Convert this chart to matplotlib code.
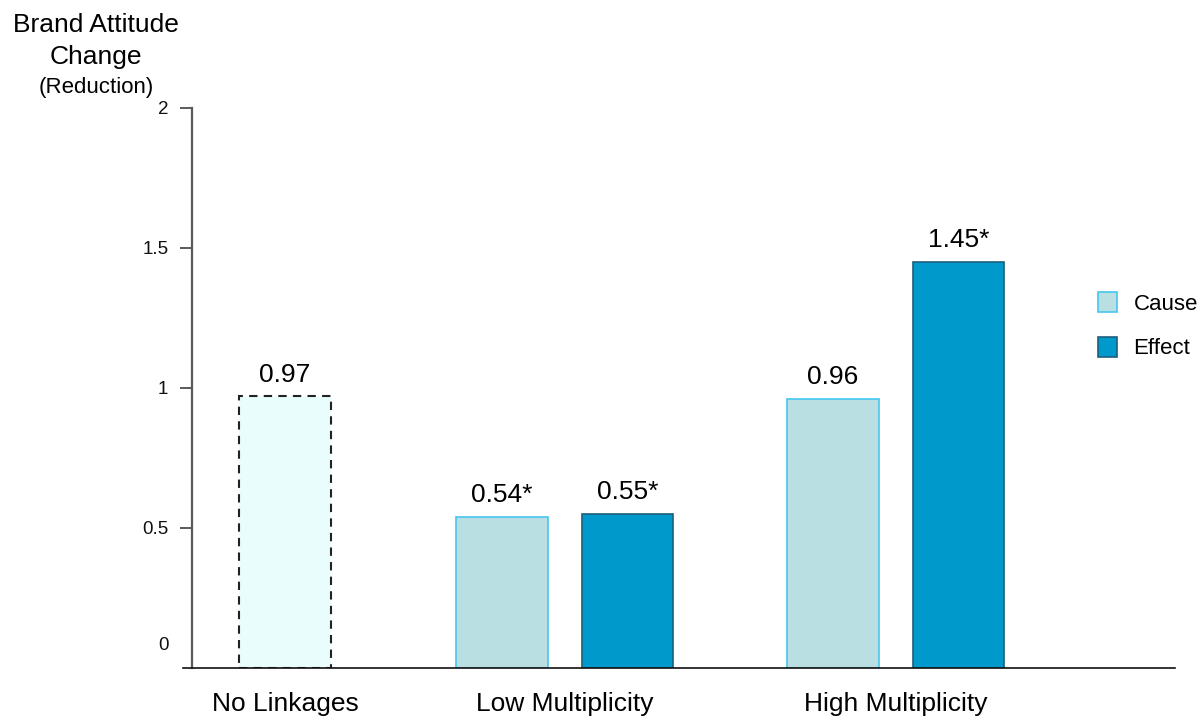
import matplotlib
matplotlib.use("Agg")
import matplotlib.pyplot as plt
import matplotlib.transforms as mtransforms
from matplotlib.patches import Patch

plt.rcParams["font.family"] = ["Liberation Sans", "DejaVu Sans"]

# Data
categories = ["No Linkages", "Low Multiplicity", "High Multiplicity"]
baseline_value = 0.97
baseline_label = "0.97"
cause_values = [0.54, 0.96]
cause_labels = ["0.54*", "0.96"]
effect_values = [0.55, 1.45]
effect_labels = ["0.55*", "1.45*"]
y_ticks = [0, 0.5, 1, 1.5, 2]
y_tick_labels = ["0", "0.5", "1", "1.5", "2"]

# Layout (x in bar-width units)
group_x = [1.115, 4.17, 7.79]
pair_offset = 0.686
bar_w = 1.0

cause_fill, cause_edge = "#BADFE3", "#45C6EE"
effect_fill, effect_edge = "#0099CC", "#1E5F7C"
base_fill = "#E9FDFD"

fig = plt.figure(figsize=(12.04, 7.19), dpi=100)
W, H = 1204, 719
ax = fig.add_axes([183 / W, (H - 668) / H, (1175 - 183) / W, (668 - 108) / H])
ax.set_xlim(0, 10.84)
ax.set_ylim(0, 2)

# No-linkage baseline bar (dashed outline)
ax.bar(group_x[0], baseline_value, width=bar_w, color=base_fill,
       edgecolor="#222222", linewidth=1.5, linestyle=(0, (4, 3)))
ax.text(group_x[0], baseline_value + 0.035, baseline_label, ha="center",
        va="bottom", fontsize=19)

# Cause / Effect bars
cx = [group_x[1] - pair_offset, group_x[2] - pair_offset]
ex = [group_x[1] + pair_offset, group_x[2] + pair_offset]
ax.bar(cx, cause_values, width=bar_w, color=cause_fill, edgecolor=cause_edge,
       linewidth=1.2)
ax.bar(ex, effect_values, width=bar_w, color=effect_fill, edgecolor=effect_edge,
       linewidth=1.2)
for x, v, t in zip(cx, cause_values, cause_labels):
    ax.text(x, v + 0.035, t, ha="center", va="bottom", fontsize=19)
for x, v, t in zip(ex, effect_values, effect_labels):
    ax.text(x, v + 0.035, t, ha="center", va="bottom", fontsize=19)

# Axes styling
for s in ["top", "right"]:
    ax.spines[s].set_visible(False)
ax.spines["left"].set_position(("data", 0.098))
ax.spines["left"].set_color("#5a5a5a")
ax.spines["left"].set_linewidth(1.6)
ax.spines["bottom"].set_color("#111111")
ax.spines["bottom"].set_linewidth(1.2)

ax.set_yticks(y_ticks)
ax.set_yticklabels(y_tick_labels, fontsize=13.5, color="#111111")
ax.tick_params(axis="y", length=9, width=1.4, color="#5a5a5a", pad=8)
# zero label sits above the axis line, without a tick mark
zero_tick = ax.yaxis.get_major_ticks()[0]
zero_tick.tick1line.set_visible(False)
zero_lbl = ax.get_yticklabels()[0]
zero_lbl.set_transform(zero_lbl.get_transform() +
                       mtransforms.ScaledTranslation(0, 25 / 100, fig.dpi_scale_trans))

ax.set_xticks(group_x)
ax.set_xticklabels(categories, fontsize=19)
ax.tick_params(axis="x", length=0, pad=17)

# Y-axis title
fig.text(96 / W, 1 - 25 / H, "Brand Attitude", ha="center", va="center", fontsize=19)
fig.text(96 / W, 1 - 57 / H, "Change", ha="center", va="center", fontsize=19)
fig.text(96 / W, 1 - 87 / H, "(Reduction)", ha="center", va="center", fontsize=16)

# Legend
handles = [Patch(facecolor=cause_fill, edgecolor=cause_edge, linewidth=1.2),
           Patch(facecolor=effect_fill, edgecolor=effect_edge, linewidth=1.2)]
fig.legend(handles, ["Cause", "Effect"], loc="upper left",
           bbox_to_anchor=(1078 / W, 1 - 272 / H), frameon=False, fontsize=16,
           handlelength=0.85, handleheight=1.0, handletextpad=0.75, labelspacing=1.0)

fig.savefig("out.png", dpi=100)
